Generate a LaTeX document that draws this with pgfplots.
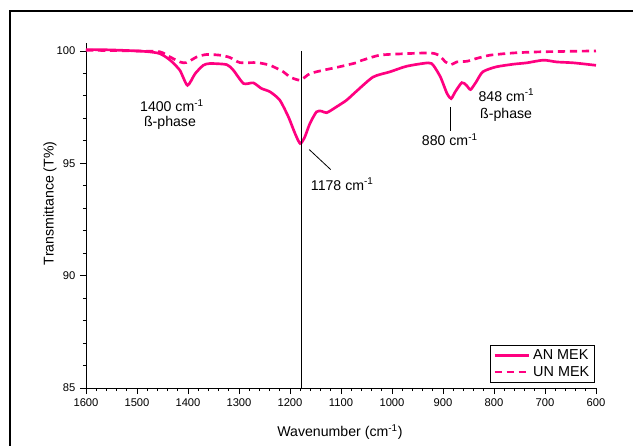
\documentclass[border=0pt]{standalone}
\usepackage{fontspec}
\setmainfont{Liberation Sans}
\usepackage{pgfplots}
\pgfplotsset{compat=1.18}
\definecolor{pk}{RGB}{255,0,128}
\begin{document}
\begin{tikzpicture}
\useasboundingbox (0,0) rectangle (474.75pt,-334.5pt);
\draw[line width=1.3pt] (7.5pt,-340pt) -- (7.5pt,-8.25pt) -- (480pt,-8.25pt);
\begin{axis}[
 at={(64.5pt,-291pt)}, anchor=south west,
 scale only axis, width=382.5pt, height=258.7pt,
 x dir=reverse, xmin=600, xmax=1600, ymin=85, ymax=100.35,
 axis x line*=bottom, axis y line*=left,
 axis line style={line width=0.7pt},
 xtick={600,700,...,1600}, ytick={85,90,95,100},
 minor x tick num=4, minor y tick num=4,
 tick align=outside,
 major tick length=4.5pt, minor tick length=2.25pt,
 every tick/.style={line width=0.6pt, black},
 /pgf/number format/assume math mode=true,
 /pgf/number format/set thousands separator={},
 ticklabel style={font=\fontsize{8.4}{9}\selectfont},
 clip=false,
 legend style={at={(0.998,0.014)}, anchor=south east, draw=black, line width=0.6pt,
   font=\fontsize{10.8}{12.5}\selectfont, inner xsep=2pt, inner ysep=1.5pt, row sep=-0.5pt, cells={anchor=west}},
 legend image code/.code={\draw[#1] (0pt,0pt) -- (26pt,0pt);},
]
\addplot[pk, line width=2pt, smooth, tension=0.4] coordinates {
(1600,100.06) (1560,100.05) (1520,100.02) (1480,99.97) (1455,99.88) (1435,99.59)
(1416,99.14) (1401,98.47) (1386,98.99) (1370,99.36) (1357,99.44) (1324,99.39)
(1311,99.14) (1291,98.55) (1272,98.58) (1256,98.33) (1239,98.18) (1220,97.81)
(1203,97.06) (1190,96.32) (1180,95.88) (1171,96.17) (1161,96.77) (1148,97.29)
(1138,97.32) (1128,97.25) (1109,97.51) (1089,97.81) (1070,98.2) (1037,98.84)
(1004,99.07) (971,99.32) (929,99.47) (919,99.36) (905,98.84) (892,98.1)
(884,97.88) (876,98.18) (863,98.59) (854,98.47) (846,98.28) (835,98.62)
(822,99.07) (796,99.29) (762,99.41) (736,99.47) (703,99.59) (677,99.51)
(644,99.47) (600,99.36)
};
\addlegendentry{AN MEK}
\addplot[pk, line width=2pt, dash pattern=on 5.5pt off 3.5pt, smooth, tension=0.4] coordinates {
(1600,100.03) (1560,100.02) (1500,100.0) (1455,99.96) (1435,99.73) (1416,99.51)
(1403,99.48) (1383,99.73) (1364,99.84) (1337,99.81) (1318,99.71) (1298,99.48)
(1265,99.48) (1239,99.36) (1213,99.07) (1200,98.84) (1180,98.7) (1161,98.99)
(1135,99.14) (1102,99.3) (1069,99.48) (1063,99.55) (1024,99.81) (971,99.88)
(925,99.91) (908,99.81) (895,99.51) (884,99.39) (873,99.51) (853,99.54)
(835,99.66) (808,99.81) (762,99.91) (710,99.96) (600,100.0)
};
\addlegendentry{UN MEK}
\draw[black, line width=0.7pt] (axis cs:1178,100) -- (axis cs:1178,85);
\draw[black, line width=0.6pt] (axis cs:1162.2,95.61) -- (axis cs:1120.2,94.72);
\draw[black, line width=0.6pt] (axis cs:885.7,97.51) -- (axis cs:885.7,96.43);
\begin{scope}[every node/.style={font=\fontsize{10.6}{12}\selectfont, inner sep=0pt}]
\node[anchor=base] at (axis cs:1431.4,97.285) {1400 cm\textsuperscript{-1}};
\node[anchor=base] at (axis cs:1435.3,96.65) {ß-phase};
\node[anchor=base west] at (axis cs:1159.4,93.80) {1178 cm\textsuperscript{-1}};
\node[anchor=base west] at (axis cs:941.8,95.80) {880 cm\textsuperscript{-1}};
\node[anchor=base west] at (axis cs:830.8,97.77) {848 cm\textsuperscript{-1}};
\node[anchor=base west] at (axis cs:827.5,96.99) {ß-phase};
\node[anchor=base] at (axis cs:1102,82.85) {Wavenumber (cm\textsuperscript{-1})};
\node[rotate=90, anchor=center] at (axis cs:1670.6,93.22) {Transmittance (T\%)};
\end{scope}
\end{axis}
\end{tikzpicture}
\end{document}
